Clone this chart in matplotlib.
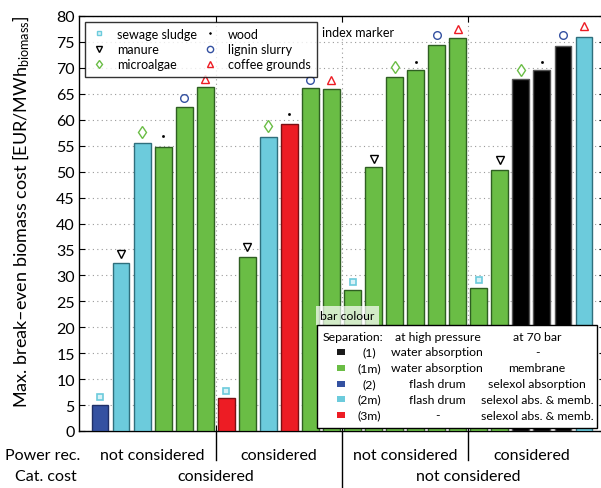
import matplotlib
matplotlib.use('Agg')
import matplotlib.pyplot as plt
from matplotlib.lines import Line2D
from matplotlib.patches import Rectangle
import matplotlib.transforms as mtrans

plt.rcParams['font.family'] = ['Lato', 'DejaVu Sans']
plt.rcParams['mathtext.fontset'] = 'custom'
plt.rcParams['mathtext.rm'] = 'Lato'
plt.rcParams['mathtext.it'] = 'Lato:italic'

# ---------------- data ----------------
values = [5.0, 32.3, 55.6, 54.7, 62.4, 66.3,
          6.3, 33.5, 56.6, 59.2, 66.1, 65.9,
          27.1, 50.8, 68.2, 69.6, 74.5, 75.7,
          27.5, 50.4, 67.8, 69.5, 74.3, 76.0]
configs = ['2', '2m', '2m', '1m', '1m', '1m',
           '3m', '1m', '2m', '3m', '1m', '1m',
           '1m', '1m', '1m', '1m', '1m', '1m',
           '1m', '1m', '1', '1', '1', '2m']
marker_vals = [6.5, 34.1, 57.6, 56.8, 64.1, 67.9,
               7.8, 35.4, 58.7, 61.1, 67.7, 67.7,
               28.8, 52.4, 70.1, 71.2, 76.3, 77.4,
               29.1, 52.3, 69.6, 71.1, 76.4, 78.1]
biomass = ['sewage sludge', 'manure', 'microalgae',
           'wood', 'lignin slurry', 'coffee grounds']
power_rec = ['not considered', 'considered', 'not considered', 'considered']
cat_cost = ['considered', 'not considered']

config_codes = ['1', '1m', '2', '2m', '3m']
config_hp = ['water absorption', 'water absorption', 'flash drum', 'flash drum', '-']
config_70 = ['-', 'membrane', 'selexol absorption', 'selexol abs. & memb.',
             'selexol abs. & memb.']

colors = {'1': '#000000', '1m': '#6abd45', '2': '#3451a1', '2m': '#6ccbdc', '3m': '#ed1c24'}
edges = {'1': '#555555', '1m': '#2f5f22', '2': '#1f2f66', '2m': '#2f6f7c', '3m': '#7a1014'}
legend_sq = {'1': '#1a1a1a', '1m': '#6abd45', '2': '#3451a1', '2m': '#6ccbdc', '3m': '#ed1c24'}

mstyle = {
    'sewage sludge': dict(marker='s', ms=4, mfc='#d8f2f7', mec='#6ccbdc', mew=1.2),
    'manure': dict(marker='v', ms=6, mfc='white', mec='black', mew=1.0),
    'microalgae': dict(marker='d', ms=6, mfc='white', mec='#6abd45', mew=1.0),
    'wood': dict(marker='.', ms=3, mfc='black', mec='black', mew=0.5),
    'lignin slurry': dict(marker='o', ms=5.5, mfc='white', mec='#3451a1', mew=1.0),
    'coffee grounds': dict(marker='^', ms=6, mfc='white', mec='#ed1c24', mew=1.0),
}
leg_style = {
    'sewage sludge': dict(marker='s', ms=3.5, mfc='#d8f2f7', mec='#6ccbdc', mew=1.0),
    'manure': dict(marker='v', ms=4.5, mfc='white', mec='black', mew=1.0),
    'microalgae': dict(marker='d', ms=4.5, mfc='white', mec='#6abd45', mew=1.0),
    'wood': dict(marker='.', ms=2.5, mfc='black', mec='black', mew=0.5),
    'lignin slurry': dict(marker='o', ms=4.5, mfc='white', mec='#3451a1', mew=1.0),
    'coffee grounds': dict(marker='^', ms=4.5, mfc='white', mec='#ed1c24', mew=1.0),
}

W, H = 601, 489
fig = plt.figure(figsize=(W / 100, H / 100), dpi=100)
pix = mtrans.Affine2D().scale(1 / W, -1 / H).translate(0, 1) + fig.transFigure

ax_l, ax_r, ax_t, ax_b = 79, 79 + 25 * 21.04, 17, 432
ax = fig.add_axes([ax_l / W, 1 - ax_b / H, (ax_r - ax_l) / W, (ax_b - ax_t) / H])

n = len(values)
xs = list(range(1, n + 1))
ax.bar(xs, values, width=0.8, color=[colors[c] for c in configs],
       edgecolor=[edges[c] for c in configs], linewidth=1.0, zorder=3)

for i, (x, v) in enumerate(zip(xs, marker_vals)):
    b = biomass[i % 6]
    ax.plot([x], [v], linestyle='none', zorder=4, **mstyle[b])

ax.set_xlim(0, 25)
ax.set_ylim(0, 80)
ax.set_yticks(range(0, 81, 5))
ax.set_xticks([6.5, 12.5, 18.5])
ax.set_xticklabels([])
ax.tick_params(axis='both', direction='in', top=True, right=True, length=4,
               width=0.8, labelsize=11.5, pad=3)
ax.grid(True, linestyle=(0, (1, 3)), color='#9a9a9a', linewidth=0.8, zorder=0)
ax.set_axisbelow(True)
for s in ax.spines.values():
    s.set_linewidth(1.0)

ax.set_ylabel('Max. break–even biomass cost [EUR/MWh$_{\\mathrm{biomass}}$]', fontsize=13)
ax.yaxis.set_label_coords((32 - ax_l) / (ax_r - ax_l), 0.53)

# marker legend
handles = [Line2D([], [], linestyle='none', **leg_style[b]) for b in biomass]
leg = ax.legend(handles, biomass, ncol=2,
                loc='upper left',
                bbox_to_anchor=((85 - ax_l) / (ax_r - ax_l), (ax_b - 22.5) / (ax_b - ax_t)),
                fontsize=9, frameon=True, fancybox=False, edgecolor='black',
                borderpad=0.5, labelspacing=0.26, handletextpad=0.85,
                columnspacing=0.45, handlelength=1.2, borderaxespad=0)
leg.get_frame().set_linewidth(1.0)
leg.set_zorder(6)
ax.text(322, 33, 'index marker', transform=pix, fontsize=9, va='center', ha='left', zorder=6,
        bbox=dict(facecolor='white', edgecolor='none', pad=1.0))

# bar colour legend (table)
tfs = 8.8
fig.patches.append(Rectangle((316, 307), 63, 19, transform=pix, facecolor='white',
                             alpha=0.7, edgecolor='none', zorder=5))
fig.text(320, 316.5, 'bar colour', transform=pix, fontsize=tfs, va='center', ha='left', zorder=6)
fig.patches.append(Rectangle((316.5, 326), 280, 102.5, transform=pix, facecolor='white',
                             edgecolor='black', linewidth=1.0, zorder=5))
fig.text(322.5, 337.5, 'Separation:', transform=pix, fontsize=tfs, va='center', ha='left', zorder=6)
fig.text(438, 337.5, 'at high pressure', transform=pix, fontsize=tfs, va='center', ha='center', zorder=6)
fig.text(537, 337.5, 'at 70 bar', transform=pix, fontsize=tfs, va='center', ha='center', zorder=6)
for k, code in enumerate(config_codes):
    yy = 353 + k * 15.75
    fig.patches.append(Rectangle((337, yy - 3), 8, 6, transform=pix,
                                 facecolor=legend_sq[code], edgecolor='none', zorder=6))
    fig.text(369, yy, '(%s)' % code, transform=pix, fontsize=tfs, va='center', ha='center', zorder=6)
    fig.text(437, yy, config_hp[k], transform=pix, fontsize=tfs, va='center', ha='center', zorder=6)
    fig.text(537, yy, config_70[k], transform=pix, fontsize=tfs, va='center', ha='center', zorder=6)

# bottom category labels
blend = mtrans.blended_transform_factory(ax.transData, pix)
fig.text(80, 455.5, 'Power rec.', transform=pix, fontsize=11.5, va='center', ha='right')
fig.text(77, 477, 'Cat. cost', transform=pix, fontsize=11.5, va='center', ha='right')
for g, lab in enumerate(power_rec):
    ax.text(6 * g + 3.5, 455.5, lab, transform=blend, fontsize=11.5, va='center',
            ha='center', clip_on=False)
for g, lab in enumerate(cat_cost):
    ax.text(12 * g + 6.5, 477, lab, transform=blend, fontsize=11.5, va='center',
            ha='center', clip_on=False)
for xb, ybot in [(6.5, 461), (12.5, 489), (18.5, 461)]:
    ax.add_line(Line2D([xb, xb], [432, ybot], transform=blend, color='black',
                       linewidth=1.0, clip_on=False))

fig.savefig('out.png', dpi=100)
